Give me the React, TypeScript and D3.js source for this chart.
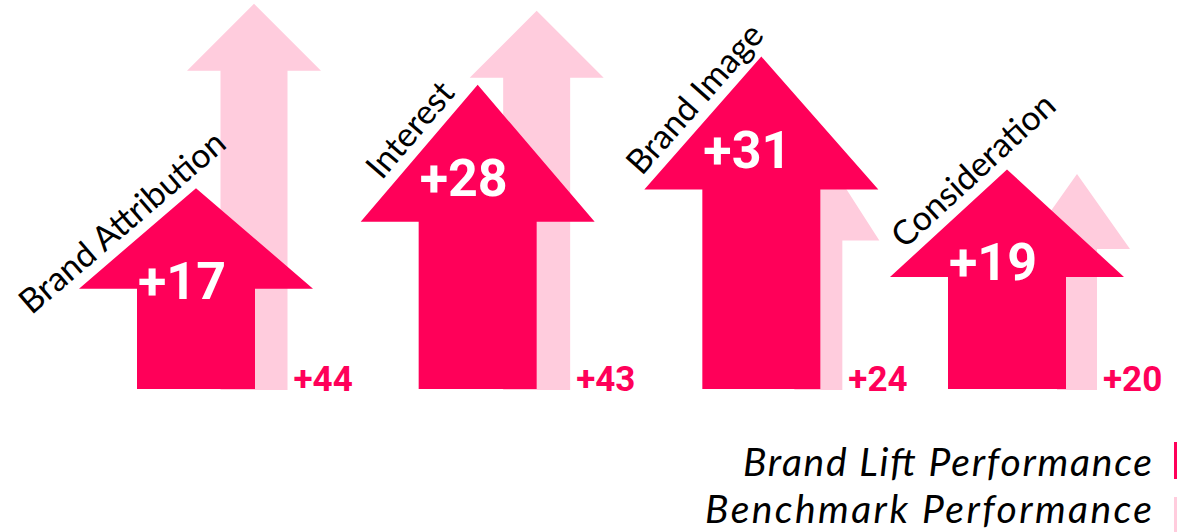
import React from "react";
import * as d3 from "d3";

// ---- data ----
const categories = ["Brand Attribution", "Interest", "Brand Image", "Consideration"];
const brandLift = [17, 28, 31, 19];
const benchmark = [44, 43, 24, 20];
const seriesNames = ["Brand Lift Performance", "Benchmark Performance"];
const seriesColors = ["#FF0059", "#FFCCDD"];

// ---- layout / style (not data) ----
const W = 1177;
const H = 532;
const BASE = 389;
const xNudge = [-7, 3, 15, -11];
const benchOffset = [58, 59, 57, 70];
const liftHeadRatio = [0.5, 0.45, 0.4, 0.49];
const benchShape = [
  { shaft: 33.5, head: 67, headH: 67 },
  { shaft: 33.5, head: 67, headH: 67 },
  { shaft: 24, head: 61, headH: 95 },
  { shaft: 20, head: 53, headH: 75 },
];
const labelAlong = [-1, 12, 13, 54];
const legendLen = [409, 447];
const legendY = [476, 523];
const LIFT_HEAD = 117;
const LIFT_SHAFT = 59;

function arrowPath(cx: number, top: number, bottom: number, shaftHalf: number, headHalf: number, headH: number) {
  const p = d3.path();
  p.moveTo(cx, top);
  p.lineTo(cx + headHalf, top + headH);
  p.lineTo(cx + shaftHalf, top + headH);
  p.lineTo(cx + shaftHalf, bottom);
  p.lineTo(cx - shaftHalf, bottom);
  p.lineTo(cx - shaftHalf, top + headH);
  p.lineTo(cx - headHalf, top + headH);
  p.closePath();
  return p.toString();
}

export default function App() {
  const x = d3.scalePoint<string>().domain(categories).range([203, 1018]);
  const yLift = d3.scaleLinear().domain([0, 31]).range([BASE - 40.85, BASE - 332.4]);
  const yBench = d3.scaleLinear().domain([0, 44]).range([BASE + 1 - 74.3, BASE + 1 - 386.3]);

  const font = "'Lato', 'Open Sans', sans-serif";

  return (
    <svg width={W} height={H} style={{ position: "absolute", left: 0, top: 0, display: "block", background: "#fff" }}>
      {categories.map((c, i) => {
        const cx = (x(c) as number) + xNudge[i];
        const bx = cx + benchOffset[i];
        const bs = benchShape[i];
        const bTop = yBench(benchmark[i]);
        return (
          <g key={"b" + c}>
            <path d={arrowPath(bx, bTop, BASE + 1, bs.shaft, bs.head, bs.headH)} fill={seriesColors[1]} />
            <text
              x={bx + bs.shaft + 6}
              y={BASE + 2}
              fill={seriesColors[0]}
              fontFamily="Roboto, sans-serif"
              fontWeight={700}
              fontSize={35}
            >
              {"+" + benchmark[i]}
            </text>
          </g>
        );
      })}
      {categories.map((c, i) => {
        const cx = (x(c) as number) + xNudge[i];
        const top = yLift(brandLift[i]);
        const headH = (BASE - top) * liftHeadRatio[i];
        // label along left edge of head
        const x0 = cx - LIFT_HEAD, y0 = top + headH;
        const dx = LIFT_HEAD, dy = -headH;
        const len = Math.hypot(dx, dy);
        const ux = dx / len, uy = dy / len;
        const nx = uy, ny = -ux; // outward (up-left)
        const mx = x0 + dx / 2, my = y0 + dy / 2;
        const off = 24;
        const lx = mx + nx * off + ux * labelAlong[i];
        const ly = my + ny * off + uy * labelAlong[i];
        const angle = (Math.atan2(dy, dx) * 180) / Math.PI;
        return (
          <g key={"l" + c}>
            <path d={arrowPath(cx, top, BASE, LIFT_SHAFT, LIFT_HEAD, headH)} fill={seriesColors[0]} />
            <text
              x={cx - 14}
              y={top + 111}
              fill="#fff"
              textAnchor="middle"
              fontFamily="Roboto, sans-serif"
              fontWeight={700}
              fontSize={52}
            >
              {"+" + brandLift[i]}
            </text>
            <text
              transform={`translate(${lx},${ly}) rotate(${angle})`}
              textAnchor="middle"
              dominantBaseline="central"
              fill="#000"
              fontFamily={font}
              fontSize={34}
            >
              {c}
            </text>
          </g>
        );
      })}
      {seriesNames.map((s, i) => (
        <g key={s}>
          <text
            x={1152}
            y={legendY[i]}
            textAnchor="end"
            fontFamily={font}
            fontStyle="italic"
            fontSize={39}
            textLength={legendLen[i]}
            lengthAdjust="spacing"
            fill="#000"
          >
            {s}
          </text>
          <rect x={1174} y={i === 0 ? 442 : 497} width={20} height={37} fill={seriesColors[i]} />
        </g>
      ))}
    </svg>
  );
}
